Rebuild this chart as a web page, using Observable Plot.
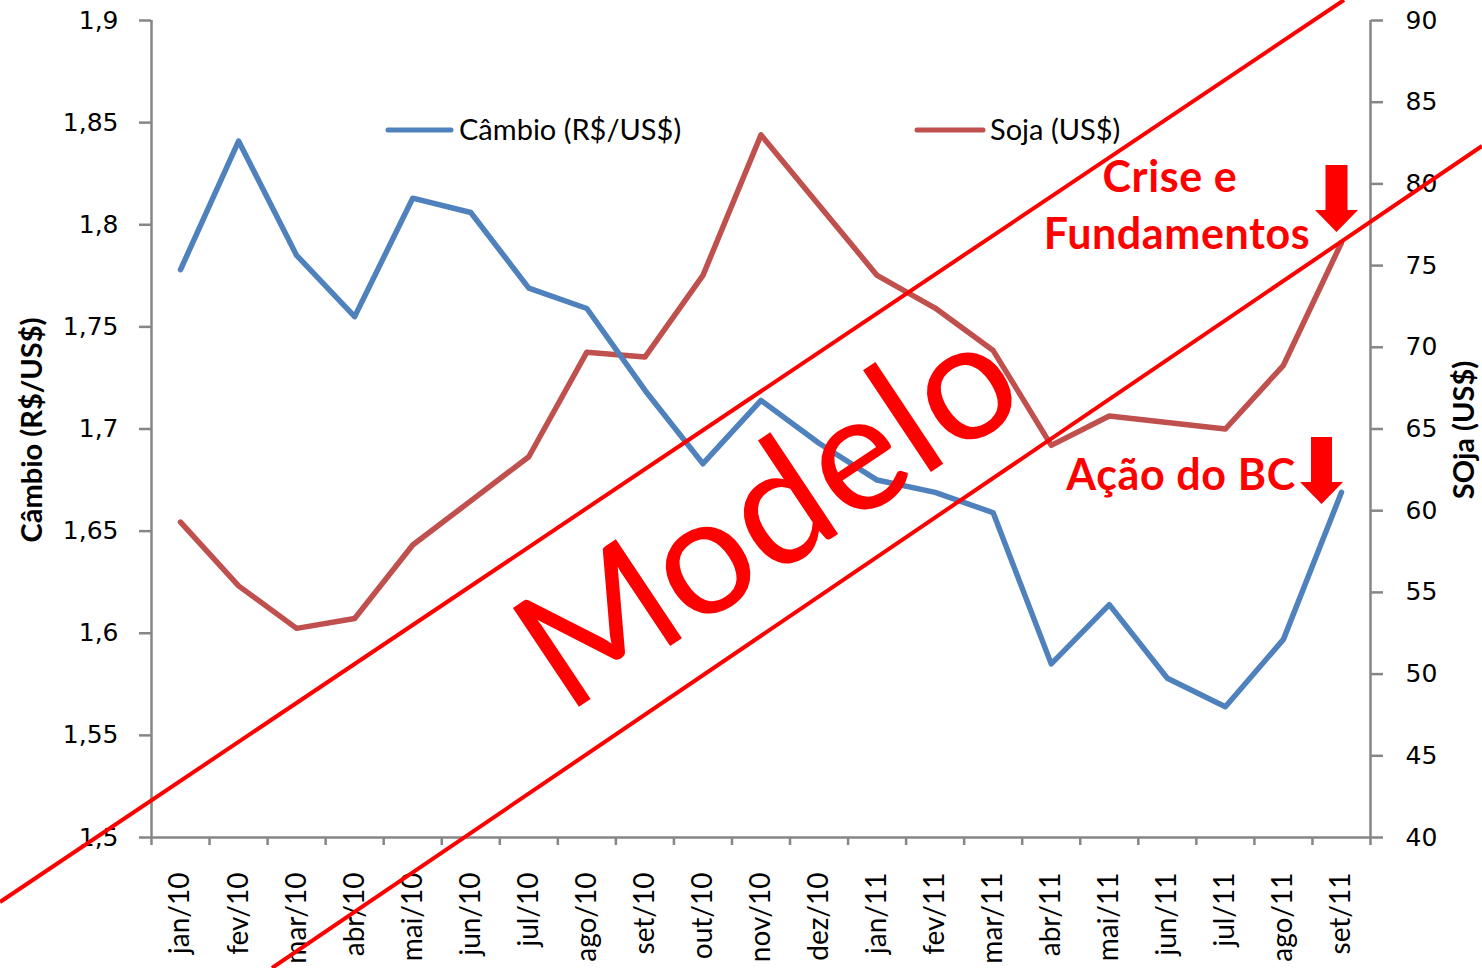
<!DOCTYPE html>
<html><head><meta charset="utf-8">
<script src="https://cdn.jsdelivr.net/npm/d3@7"></script>
<script src="https://cdn.jsdelivr.net/npm/@observablehq/plot@0.6"></script>
<style>
html,body{margin:0;padding:0;background:#fff;}
#wrap{position:relative;width:1482px;height:968px;overflow:hidden;}
#wrap svg{position:absolute;left:0;top:0;}
</style></head><body><div id="wrap"></div>
<script>
const months = ["jan/10","fev/10","mar/10","abr/10","mai/10","jun/10","jul/10","ago/10","set/10","out/10","nov/10","dez/10",
                "jan/11","fev/11","mar/11","abr/11","mai/11","jun/11","jul/11","ago/11","set/11"];
const cambio = [1.778,1.841,1.785,1.755,1.813,1.806,1.769,1.759,1.719,1.683,1.714,1.693,
                1.675,1.669,1.659,1.585,1.614,1.578,1.564,1.597,1.669];
const soja = [59.3,55.4,52.8,53.4,57.9,60.6,63.3,69.7,69.4,74.4,83.0,78.7,
              74.4,72.4,69.8,64.0,65.8,65.4,65.0,68.9,76.4];
const cambioTicks = [1.5,1.55,1.6,1.65,1.7,1.75,1.8,1.85,1.9];
const sojaTicks = [40,45,50,55,60,65,70,75,80,85,90];
const seriesNames = ["Câmbio (R$/US$)", "Soja (US$)"];
const leftTitle = "Câmbio (R$/US$)";
const rightTitle = "SOja (US$)";
const note1 = ["Crise e", "Fundamentos"];
const note2 = "Ação do BC";
const watermark = "Modelo";

const W = 1482, H = 968, mL = 151, mR = 112, mT = 20, mB = 131;
const blue = "#4F81BD", brown = "#C0504D", axisGray = "#868686";
// soja (40..90) mapped onto the left scale (1.5..1.9)
const toLeft = s => 1.5 + (s - 40) / 50 * 0.4;
const idx = months.map((_, i) => i);
const bounds = months.map((_, i) => i - 0.5).concat([months.length - 0.5]);
const fmt = v => String(+v.toFixed(2)).replace(".", ",");

const chart = Plot.plot({
  width: W, height: H,
  marginLeft: mL, marginRight: mR, marginTop: mT, marginBottom: mB,
  style: {background: "transparent", overflow: "visible"},
  x: {type: "linear", domain: [-0.5, months.length - 0.5], axis: null},
  y: {domain: [1.5, 1.9], axis: null},
  marks: [
    Plot.axisX(bounds, {tickSize: 8, tickFormat: () => "", stroke: axisGray, strokeWidth: 2.5, label: null}),
    Plot.axisX(idx, {tickSize: 0, tickPadding: 35, tickRotate: -90, tickFormat: i => months[i],
      fontSize: 28, fontFamily: "Lato", fill: "#000", label: null}),
    Plot.axisY(cambioTicks, {anchor: "left", tickSize: 12, tickPadding: 21, tickFormat: fmt,
      fontSize: 25, fontFamily: "DejaVu Sans", stroke: axisGray, strokeWidth: 2.5, fill: "#000", label: null}),
    Plot.axisY(sojaTicks.map(toLeft), {anchor: "right", tickSize: 12, tickPadding: 23,
      tickFormat: v => String(Math.round(40 + (v - 1.5) / 0.4 * 50)),
      fontSize: 25, fontFamily: "DejaVu Sans", stroke: axisGray, strokeWidth: 2.5, fill: "#000", label: null}),
    Plot.ruleX([-0.5, months.length - 0.5], {stroke: axisGray, strokeWidth: 2.5}),
    Plot.ruleY([1.5], {stroke: axisGray, strokeWidth: 2.5}),
    Plot.lineY(soja, {x: (d, i) => i, y: d => toLeft(d), stroke: brown, strokeWidth: 5.5,
      strokeLinejoin: "round", strokeLinecap: "round"}),
    Plot.lineY(cambio, {x: (d, i) => i, y: d => d, stroke: blue, strokeWidth: 5.5,
      strokeLinejoin: "round", strokeLinecap: "round"})
  ]
});
const wrap = document.getElementById("wrap");
wrap.appendChild(chart);

// overlay: legend, axis titles, annotations, watermark
const ns = "http://www.w3.org/2000/svg";
const ov = d3.select(wrap).append("svg").attr("width", W).attr("height", H)
  .attr("xmlns", ns).style("pointer-events", "none");

// legend
const leg = [[388, 451, 459, blue, seriesNames[0]], [917, 983, 990, brown, seriesNames[1]]];
leg.forEach(([x1, x2, tx, c, t]) => {
  ov.append("line").attr("x1", x1).attr("x2", x2).attr("y1", 130).attr("y2", 130)
    .attr("stroke", c).attr("stroke-width", 5).attr("stroke-linecap", "round");
  ov.append("text").attr("x", tx).attr("y", 140).attr("font-family", "Lato").attr("font-size", 29)
    .attr("fill", "#000").text(t);
});

// axis titles
ov.append("text").attr("transform", "translate(30,430) rotate(-90)").attr("text-anchor", "middle")
  .attr("dominant-baseline", "central").attr("font-family", "Lato").attr("font-weight", "bold")
  .attr("font-size", 29).attr("fill", "#000").text(leftTitle);
ov.append("text").attr("transform", "translate(1462,430) rotate(-90)").attr("text-anchor", "middle")
  .attr("dominant-baseline", "central").attr("font-family", "Lato").attr("font-weight", "bold")
  .attr("font-size", 29).attr("fill", "#000").text(rightTitle);

// watermark lines
ov.append("line").attr("x1", 0).attr("y1", 902).attr("x2", 1344).attr("y2", 0)
  .attr("stroke", "#FF0000").attr("stroke-width", 4);
ov.append("line").attr("x1", 272).attr("y1", 968).attr("x2", 1482).attr("y2", 146)
  .attr("stroke", "#FF0000").attr("stroke-width", 4);
ov.append("text").attr("transform", "translate(799,560) rotate(-33.7)").attr("text-anchor", "middle")
  .attr("font-family", "Lato").attr("font-size", 166).attr("fill", "#FF0000").text(watermark);

// annotations
const red = "#FF0000";
const note = (x, y, t) => ov.append("text").attr("x", x).attr("y", y).attr("text-anchor", "middle")
  .attr("font-family", "Lato").attr("font-weight", "bold").attr("font-size", 43)
  .attr("letter-spacing", 0.6).attr("fill", red).text(t);
note(1170, 192, note1[0]);
note(1177, 249, note1[1]);
note(1181, 490, note2);
const arrow = (cx, top, headTop, tip, sw, hw) =>
  `M${cx - sw / 2},${top}L${cx + sw / 2},${top}L${cx + sw / 2},${headTop}L${cx + hw / 2},${headTop}` +
  `L${cx},${tip}L${cx - hw / 2},${headTop}L${cx - sw / 2},${headTop}Z`;
ov.append("path").attr("d", arrow(1336.5, 165, 210, 232, 22, 43)).attr("fill", red);
ov.append("path").attr("d", arrow(1321.5, 437, 482, 504, 21, 43)).attr("fill", red);
</script>
</body></html>
